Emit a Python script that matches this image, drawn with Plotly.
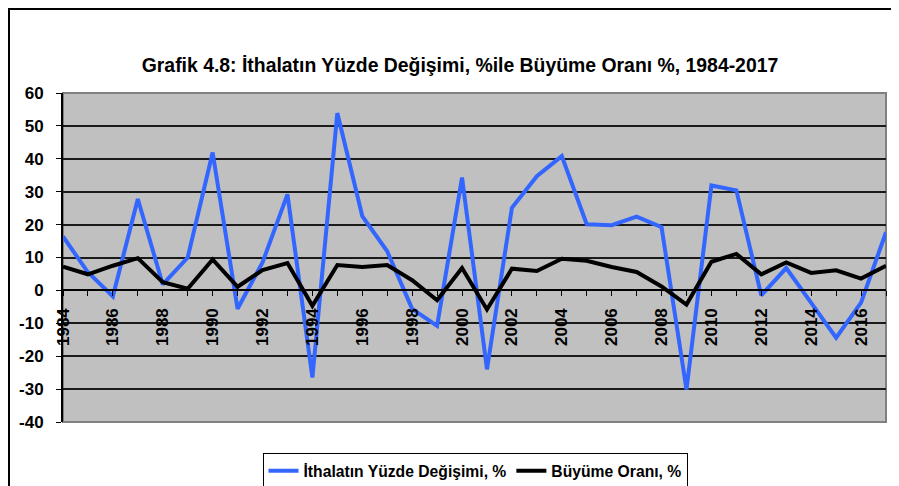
import plotly.graph_objects as go

years = list(range(1984, 2018))
ithalat = [16.4, 5.5, -1.8, 27.8, 1.8, 10.0, 41.9, -5.6, 8.5, 29.2,
           -26.5, 53.9, 22.6, 11.9, -5.6, -10.8, 34.3, -24.0, 25.1, 34.7,
           40.8, 20.1, 19.8, 22.4, 19.2, -30.1, 31.9, 30.4, -1.5, 6.8,
           -3.8, -14.4, -3.7, 17.7]
buyume = [7.2, 4.9, 7.5, 9.8, 2.5, 0.5, 9.4, 1.1, 6.2, 8.3,
          -4.7, 7.7, 7.1, 7.7, 3.1, -3.0, 6.8, -5.8, 6.6, 5.9,
          9.6, 9.0, 7.1, 5.6, 1.2, -4.3, 8.7, 11.1, 4.9, 8.5,
          5.3, 6.1, 3.6, 7.5]
year_labels = [str(y) if y % 2 == 0 else "" for y in years]
y_ticks = list(range(-40, 70, 10))

title_text = "Grafik 4.8: İthalatın Yüzde Değişimi, %ile Büyüme Oranı %, 1984-2017"
name_ithalat = "İthalatın Yüzde Değişimi, %"
name_buyume = "Büyüme Oranı, %"

FONT = "Liberation Sans, Arial, sans-serif"

fig = go.Figure()
fig.add_trace(go.Scatter(x=years, y=ithalat, mode="lines",
                         name="<b>" + name_ithalat + "</b>",
                         line=dict(color="#3366FF", width=4)))
fig.add_trace(go.Scatter(x=years, y=buyume, mode="lines",
                         name="<b>" + name_buyume + "</b>",
                         line=dict(color="#000000", width=4)))

# page has an 8px body margin, so the figure is drawn 8px in from the corner
OFF = 8
W, H = 899 - OFF, 486 - OFF
L, T = 63 - OFF, 93 - OFF
R = W - (886 - OFF)
B = H - (422 - OFF)
pw, ph = W - L - R, H - T - B

def px_x(x):
    return (x - OFF - L) / pw

def px_y(y):
    return (H - B - (y - OFF)) / ph

fig.update_layout(
    template="none",
    width=W, height=H,
    margin=dict(l=L, r=R, t=T, b=B, pad=0, autoexpand=False),
    paper_bgcolor="white",
    plot_bgcolor="#C0C0C0",
    font=dict(family=FONT, color="black"),
    title=dict(text="<b>" + title_text + "</b>", x=(460 - OFF) / W, xanchor="center",
               y=1 - (65 - OFF) / H, yanchor="middle",
               font=dict(size=19.4, family=FONT, color="black")),
    showlegend=True,
    legend=dict(orientation="h", x=px_x(475), xanchor="center", y=px_y(453), yanchor="top",
                bgcolor="white", bordercolor="black", borderwidth=1,
                font=dict(size=15.7, family=FONT, color="black"),
                traceorder="normal", itemwidth=30),
    xaxis=dict(
        range=[1984, 2017],
        tickmode="array", tickvals=years,
        ticktext=["<b>" + t + "</b>" if t else "" for t in year_labels],
        tickangle=-90,
        ticks="outside", ticklen=5, tickcolor="black", tickwidth=1,
        showgrid=False, zeroline=False,
        showline=True, linecolor="black", linewidth=2,
        anchor="free", position=0.4,
        tickfont=dict(size=17, family=FONT, color="black"),
        ticklabelstandoff=5,
        automargin=False,
    ),
    yaxis=dict(
        range=[-40, 60],
        tickmode="array", tickvals=y_ticks,
        ticktext=["<b>" + str(v) + "</b>" for v in y_ticks],
        ticks="outside", ticklen=5, tickcolor="black", tickwidth=1,
        showgrid=True, gridcolor="#1a1a1a", gridwidth=1.5,
        zeroline=False,
        showline=True, linecolor="black", linewidth=2,
        tickfont=dict(size=17, family=FONT, color="black"),
        ticklabelstandoff=9,
        automargin=False,
    ),
)

# gray plot-area border (top, right, bottom)
fig.add_shape(type="rect", xref="paper", yref="paper", x0=0, x1=1, y0=0, y1=1,
              line=dict(color="#808080", width=2), layer="below")
# outer chart border
fig.add_shape(type="rect", xref="paper", yref="paper",
              x0=px_x(9), x1=px_x(930), y0=px_y(530), y1=px_y(9),
              line=dict(color="black", width=2))

fig.write_html("out.html")
